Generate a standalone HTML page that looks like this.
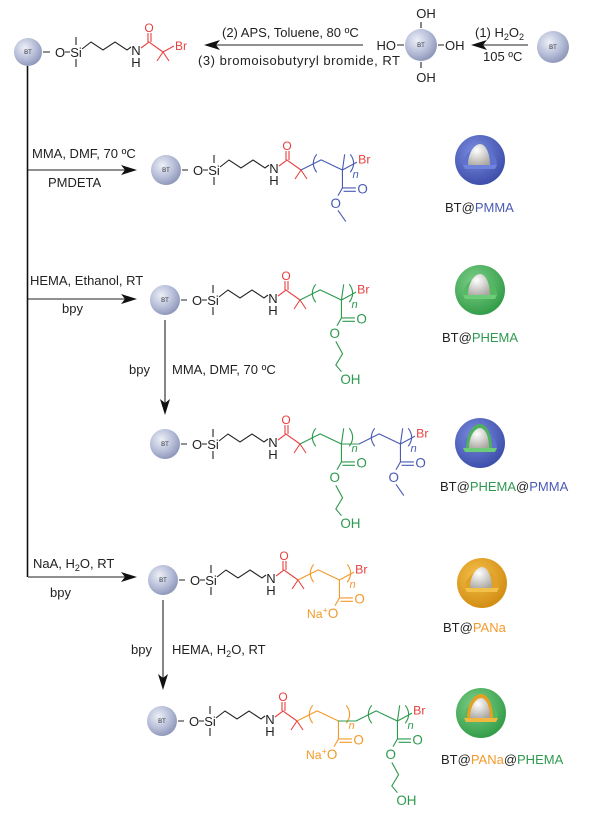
<!DOCTYPE html>
<html><head><meta charset="utf-8"><style>
html,body{margin:0;padding:0;background:#fff}
svg{display:block;font-family:"Liberation Sans",Arial,sans-serif}
</style></head><body>
<svg width="600" height="816" viewBox="0 0 600 816" xmlns="http://www.w3.org/2000/svg">
<defs>
<radialGradient id="bt" cx="0.38" cy="0.35" r="0.7"><stop offset="0" stop-color="#eef0f8"/><stop offset="0.6" stop-color="#b3bbd6"/><stop offset="1" stop-color="#8a93b5"/></radialGradient>
<radialGradient id="core" cx="0.4" cy="0.3" r="0.8"><stop offset="0" stop-color="#ffffff"/><stop offset="1" stop-color="#a9a6a0"/></radialGradient>
<radialGradient id="gB" cx="0.4" cy="0.35" r="0.7"><stop offset="0" stop-color="#7c8ee0"/><stop offset="1" stop-color="#3a4aa8"/></radialGradient>
<radialGradient id="gG" cx="0.4" cy="0.35" r="0.7"><stop offset="0" stop-color="#7fd08a"/><stop offset="1" stop-color="#2f9a45"/></radialGradient>
<radialGradient id="gO" cx="0.4" cy="0.35" r="0.7"><stop offset="0" stop-color="#f5c04a"/><stop offset="1" stop-color="#d08a10"/></radialGradient>
</defs>
<style>
.k{stroke:#222;stroke-width:1.1;fill:none}
.r{stroke:#e8403f;stroke-width:1.1;fill:none}
.b{stroke:#4a5bb5;stroke-width:1;fill:none}
.g{stroke:#2e9a50;stroke-width:1;fill:none}
.o{stroke:#f39a2b;stroke-width:1;fill:none}
.t{font-size:13px;fill:#222}
.a{font-size:12px}
.bt{font-size:6px;fill:#333;text-anchor:middle}
.m{text-anchor:middle}
</style>

<!-- main lines -->
<path d="M27.5,66 V577" stroke="#111" stroke-width="1.6"/>
<path d="M28,170 H128" class="k"/><path d="M137,170 L121,165 L125,170 L121,175 Z" fill="#111"/>
<path d="M28,299 H128" class="k"/><path d="M137,299 L121,294 L125,299 L121,304 Z" fill="#111"/>
<path d="M28,577 H128" class="k"/><path d="M137,577 L121,572 L125,577 L121,582 Z" fill="#111"/>
<path d="M165,320 V405" class="k"/><path d="M165,415 L160,399 L165,403 L170,399 Z" fill="#111"/>
<path d="M163,600 V680" class="k"/><path d="M163,690 L158,674 L163,678 L168,674 Z" fill="#111"/>

<!-- reaction texts -->
<text class="t" x="32" y="158">MMA, DMF, 70 ºC</text>
<text class="t" x="48" y="187">PMDETA</text>
<text class="t" x="30" y="285">HEMA, Ethanol, RT</text>
<text class="t" x="62" y="313">bpy</text>
<text class="t" x="129" y="374">bpy</text>
<text class="t" x="172" y="374">MMA, DMF, 70 ºC</text>
<text class="t" x="33" y="568">NaA, H<tspan font-size="9" dy="3">2</tspan><tspan dy="-3">O, RT</tspan></text>
<text class="t" x="50" y="597">bpy</text>
<text class="t" x="131" y="654">bpy</text>
<text class="t" x="172" y="654">HEMA, H<tspan font-size="9" dy="3">2</tspan><tspan dy="-3">O, RT</tspan></text>

<!-- top row -->
<path d="M363,45 H212" class="k"/><path d="M204,45 L220,40 L216,45 L220,50 Z" fill="#111"/>
<text class="t" x="222" y="37">(2) APS, Toluene, 80 ºC</text>
<text class="t" x="198" y="65" textLength="202">(3) bromoisobutyryl bromide, RT</text>
<circle cx="421" cy="45" r="16" fill="url(#bt)"/><text class="bt" x="421" y="47">BT</text>
<text class="t m" x="426" y="18">OH</text><path d="M421,22 V28 M421,62 V68 M397,45 H404 M438,45 H444" class="k"/>
<text class="t m" x="426" y="82">OH</text>
<text class="t" x="396" y="50" text-anchor="end">HO</text>
<text class="t" x="445" y="50">OH</text>
<path d="M528,45 H480" class="k"/><path d="M471,45 L487,40 L483,45 L487,50 Z" fill="#111"/>
<text class="t" x="475" y="37">(1) H<tspan font-size="9" dy="3">2</tspan><tspan dy="-3">O</tspan><tspan font-size="9" dy="3">2</tspan></text>
<text class="t" x="483" y="61">105 ºC</text>
<circle cx="553" cy="47" r="16" fill="url(#bt)"/><text class="bt" x="553" y="49">BT</text>

<g transform="translate(28,52)">
<circle r="14" fill="url(#bt)"/><text class="bt" y="2">BT</text>
<path d="M15,0 H22 M37,0 H42 M48,-15 V-7 M48,7 V15 M54,-3 L63,-10 L75,-2 L87,-10 L99,-2 L103,-5" class="k"/>
<text class="t m" x="32" y="5">O</text><text class="t m" x="48" y="5">Si</text>
<text class="t m" x="108" y="3">N</text><text class="t m" x="108" y="15">H</text>
<path d="M113,-4 L121,-10 L135,0 M120,-10 V-19 M123,-10 V-19 M135,0 L129,9 M135,0 L141,9 M135,0 L146,-6" class="r"/>
<text class="a m" x="121" y="-20" fill="#e8403f">O</text>
<text class="a" x="147" y="-2" fill="#e8403f">Br</text>
</g>

<!-- row 2 PMMA -->
<g transform="translate(166,170)">
<circle r="15" fill="url(#bt)"/><text class="bt" y="2">BT</text>
<path d="M16,0 H22 M37,0 H42 M48,-15 V-7 M48,7 V15 M54,-3 L63,-10 L75,-2 L87,-10 L99,-2 L103,-5" class="k"/>
<text class="t m" x="32" y="5">O</text><text class="t m" x="48" y="5">Si</text>
<text class="t m" x="108" y="3">N</text><text class="t m" x="108" y="15">H</text>
<path d="M113,-4 L121,-10 L135,0 M120,-10 V-19 M123,-10 V-19 M135,0 L129,9 M135,0 L141,9" class="r"/>
<text class="a m" x="121" y="-20" fill="#e8403f">O</text>
<g transform="translate(135,0) scale(1.12)">
<path d="M0,0 L18,-9 L37,0 L39,-14 M37,0 V16 L49,16 M38,19 L49,19 M37,16 L33,23 M14,-14 Q8,-6 14,2 M44,-14 Q50,-6 44,2 M37,0 L50,-7 M33,36 L40,46" class="b"/>
<text class="a m" x="55" y="21" fill="#4a5bb5">O</text><text class="a m" x="31" y="34" fill="#4a5bb5">O</text>
<text x="46" y="7" font-size="10" font-style="italic" fill="#4a5bb5">n</text>
<text x="51" y="-6" font-size="11" fill="#e8403f">Br</text>
</g>
</g>

<!-- row 3 PHEMA -->
<g transform="translate(165,300)">
<circle r="15" fill="url(#bt)"/><text class="bt" y="2">BT</text>
<path d="M16,0 H22 M37,0 H42 M48,-15 V-7 M48,7 V15 M54,-3 L63,-10 L75,-2 L87,-10 L99,-2 L103,-5" class="k"/>
<text class="t m" x="32" y="5">O</text><text class="t m" x="48" y="5">Si</text>
<text class="t m" x="108" y="3">N</text><text class="t m" x="108" y="15">H</text>
<path d="M113,-4 L121,-10 L135,0 M120,-10 V-19 M123,-10 V-19 M135,0 L129,9 M135,0 L141,9" class="r"/>
<text class="a m" x="121" y="-20" fill="#e8403f">O</text>
<g transform="translate(135,0) scale(1.12)">
<path d="M0,0 L18,-9 L37,0 L39,-14 M37,0 V16 L49,16 M38,19 L49,19 M37,16 L33,23 M14,-14 Q8,-6 14,2 M44,-14 Q50,-6 44,2 M37,0 L50,-7 M32,37 L38,48 L32,58 L37,64" class="g"/>
<text class="a m" x="55" y="21" fill="#2e9a50">O</text><text class="a m" x="31" y="34" fill="#2e9a50">O</text>
<text x="46" y="7" font-size="10" font-style="italic" fill="#2e9a50">n</text>
<text class="a" x="36" y="75" fill="#2e9a50">OH</text>
<text x="51" y="-6" font-size="11" fill="#e8403f">Br</text>
</g>
</g>

<!-- row 4 PHEMA-PMMA -->
<g transform="translate(165,444)">
<circle r="15" fill="url(#bt)"/><text class="bt" y="2">BT</text>
<path d="M16,0 H22 M37,0 H42 M48,-15 V-7 M48,7 V15 M54,-3 L63,-10 L75,-2 L87,-10 L99,-2 L103,-5" class="k"/>
<text class="t m" x="32" y="5">O</text><text class="t m" x="48" y="5">Si</text>
<text class="t m" x="108" y="3">N</text><text class="t m" x="108" y="15">H</text>
<path d="M113,-4 L121,-10 L135,0 M120,-10 V-19 M123,-10 V-19 M135,0 L129,9 M135,0 L141,9" class="r"/>
<text class="a m" x="121" y="-20" fill="#e8403f">O</text>
<g transform="translate(135,0) scale(1.12)">
<path d="M0,0 L18,-9 L37,0 L39,-14 M37,0 V16 L49,16 M38,19 L49,19 M37,16 L33,23 M14,-14 Q8,-6 14,2 M44,-14 Q50,-6 44,2 M37,0 L53,0 M32,37 L38,48 L32,58 L37,64" class="g"/>
<text class="a m" x="55" y="21" fill="#2e9a50">O</text><text class="a m" x="31" y="34" fill="#2e9a50">O</text>
<text x="46" y="7" font-size="10" font-style="italic" fill="#2e9a50">n</text>
<text class="a" x="36" y="75" fill="#2e9a50">OH</text>
</g>
<g transform="translate(194,0) scale(1.12)">
<path d="M0,0 L18,-9 L37,0 L39,-14 M37,0 V16 L49,16 M38,19 L49,19 M37,16 L33,23 M14,-14 Q8,-6 14,2 M44,-14 Q50,-6 44,2 M37,0 L50,-7 M33,36 L40,46" class="b"/>
<text class="a m" x="55" y="21" fill="#4a5bb5">O</text><text class="a m" x="31" y="34" fill="#4a5bb5">O</text>
<text x="46" y="7" font-size="10" font-style="italic" fill="#4a5bb5">n</text>
<text x="51" y="-6" font-size="11" fill="#e8403f">Br</text>
</g>
</g>

<!-- row 5 PANa -->
<g transform="translate(163,580)">
<circle r="15" fill="url(#bt)"/><text class="bt" y="2">BT</text>
<path d="M16,0 H22 M37,0 H42 M48,-15 V-7 M48,7 V15 M54,-3 L63,-10 L75,-2 L87,-10 L99,-2 L103,-5" class="k"/>
<text class="t m" x="32" y="5">O</text><text class="t m" x="48" y="5">Si</text>
<text class="t m" x="108" y="3">N</text><text class="t m" x="108" y="15">H</text>
<path d="M113,-4 L121,-10 L135,0 M120,-10 V-19 M123,-10 V-19 M135,0 L129,9 M135,0 L141,9" class="r"/>
<text class="a m" x="121" y="-20" fill="#e8403f">O</text>
<g transform="translate(135,0) scale(1.12)">
<path d="M0,0 L18,-9 L37,0 M37,0 V16 L49,16 M38,19 L49,19 M37,16 L33,23 M14,-14 Q8,-6 14,2 M44,-14 Q50,-6 44,2 M37,0 L50,-7" class="o"/>
<text class="a m" x="55" y="21" fill="#f39a2b">O</text>
<text x="36" y="34" font-size="11" text-anchor="end" fill="#f39a2b">Na<tspan font-size="8" dy="-4">+</tspan><tspan dy="4" font-size="12">O</tspan></text>
<text x="46" y="7" font-size="10" font-style="italic" fill="#f39a2b">n</text>
<text x="51" y="-6" font-size="11" fill="#e8403f">Br</text>
</g>
</g>

<!-- row 6 PANa-PHEMA -->
<g transform="translate(162,721)">
<circle r="15" fill="url(#bt)"/><text class="bt" y="2">BT</text>
<path d="M16,0 H22 M37,0 H42 M48,-15 V-7 M48,7 V15 M54,-3 L63,-10 L75,-2 L87,-10 L99,-2 L103,-5" class="k"/>
<text class="t m" x="32" y="5">O</text><text class="t m" x="48" y="5">Si</text>
<text class="t m" x="108" y="3">N</text><text class="t m" x="108" y="15">H</text>
<path d="M113,-4 L121,-10 L135,0 M120,-10 V-19 M123,-10 V-19 M135,0 L129,9 M135,0 L141,9" class="r"/>
<text class="a m" x="121" y="-20" fill="#e8403f">O</text>
<g transform="translate(135,0) scale(1.12)">
<path d="M0,0 L18,-9 L37,0 M37,0 V16 L49,16 M38,19 L49,19 M37,16 L33,23 M14,-14 Q8,-6 14,2 M44,-14 Q50,-6 44,2" class="o"/>
<text class="a m" x="55" y="21" fill="#f39a2b">O</text>
<text x="36" y="34" font-size="11" text-anchor="end" fill="#f39a2b">Na<tspan font-size="8" dy="-4">+</tspan><tspan dy="4" font-size="12">O</tspan></text>
<text x="46" y="7" font-size="10" font-style="italic" fill="#f39a2b">n</text>
</g>
<path d="M176,0 L194,0" class="g"/>
<g transform="translate(194,0) scale(1.12)">
<path d="M0,0 L18,-9 L37,0 L39,-14 M37,0 V16 L49,16 M38,19 L49,19 M37,16 L33,23 M14,-14 Q8,-6 14,2 M44,-14 Q50,-6 44,2 M37,0 L50,-7 M32,37 L38,48 L32,58 L37,64" class="g"/>
<text class="a m" x="55" y="21" fill="#2e9a50">O</text><text class="a m" x="31" y="34" fill="#2e9a50">O</text>
<text x="46" y="7" font-size="10" font-style="italic" fill="#2e9a50">n</text>
<text class="a" x="36" y="75" fill="#2e9a50">OH</text>
<text x="51" y="-6" font-size="11" fill="#e8403f">Br</text>
</g>
</g>

<!-- core-shell spheres -->
<g transform="translate(480,160)">
<circle r="25" fill="url(#gB)"/>
<path d="M-17,5 A17,17 0 0 1 17,5 Z" fill="#5f72d0"/>
<path d="M-12,5 C-12,-8 -5,-16 0,-16 C5,-16 10,-8 10,5 Z" fill="url(#core)"/>
<path d="M-17,5 H17 L15,9 H-15 Z" fill="#6f82dc"/>
</g>
<text class="t" x="445" y="212" font-size="14">BT@<tspan fill="#4a5bb5">PMMA</tspan></text>

<g transform="translate(480,290)">
<circle r="25" fill="url(#gG)"/>
<path d="M-17,5 A17,17 0 0 1 17,5 Z" fill="#55b863"/>
<path d="M-12,5 C-12,-8 -5,-16 0,-16 C5,-16 10,-8 10,5 Z" fill="url(#core)"/>
<path d="M-17,5 H17 L15,9 H-15 Z" fill="#6ccc78"/>
</g>
<text class="t" x="442" y="342" font-size="14">BT@<tspan fill="#2e9a50">PHEMA</tspan></text>

<g transform="translate(480,443)">
<circle r="25" fill="url(#gB)"/>
<path d="M-17,5 A17,17 0 0 1 17,5 Z" fill="#5f72d0"/>
<path d="M-14,5 C-14,-10 -6,-19 0,-19 C6,-19 12,-10 12,5 Z" fill="#4fb060"/>
<path d="M-11,5 C-11,-7 -5,-15 0,-15 C5,-15 9,-7 9,5 Z" fill="url(#core)"/>
<path d="M-17,5 H17 L15,9 H-15 Z" fill="#6ccc78"/>
</g>
<text class="t" x="440" y="491" font-size="14">BT@<tspan fill="#2e9a50">PHEMA</tspan>@<tspan fill="#4a5bb5">PMMA</tspan></text>

<g transform="translate(482,583)">
<circle r="25" fill="url(#gO)"/>
<path d="M-17,5 A17,17 0 0 1 17,5 Z" fill="#e0a126"/>
<path d="M-12,5 C-12,-8 -5,-16 0,-16 C5,-16 10,-8 10,5 Z" fill="url(#core)"/>
<path d="M-17,5 H17 L15,9 H-15 Z" fill="#f3c04a"/>
</g>
<text class="t" x="443" y="632" font-size="14">BT@<tspan fill="#f39a2b">PANa</tspan></text>

<g transform="translate(481,713)">
<circle r="25" fill="url(#gG)"/>
<path d="M-17,5 A17,17 0 0 1 17,5 Z" fill="#55b863"/>
<path d="M-14,5 C-14,-10 -6,-19 0,-19 C6,-19 12,-10 12,5 Z" fill="#e6a020"/>
<path d="M-11,5 C-11,-7 -5,-15 0,-15 C5,-15 9,-7 9,5 Z" fill="url(#core)"/>
<path d="M-17,5 H17 L15,9 H-15 Z" fill="#f0b840"/>
</g>
<text class="t" x="441" y="764" font-size="14">BT@<tspan fill="#f39a2b">PANa</tspan>@<tspan fill="#2e9a50">PHEMA</tspan></text>
</svg>
</body></html>
